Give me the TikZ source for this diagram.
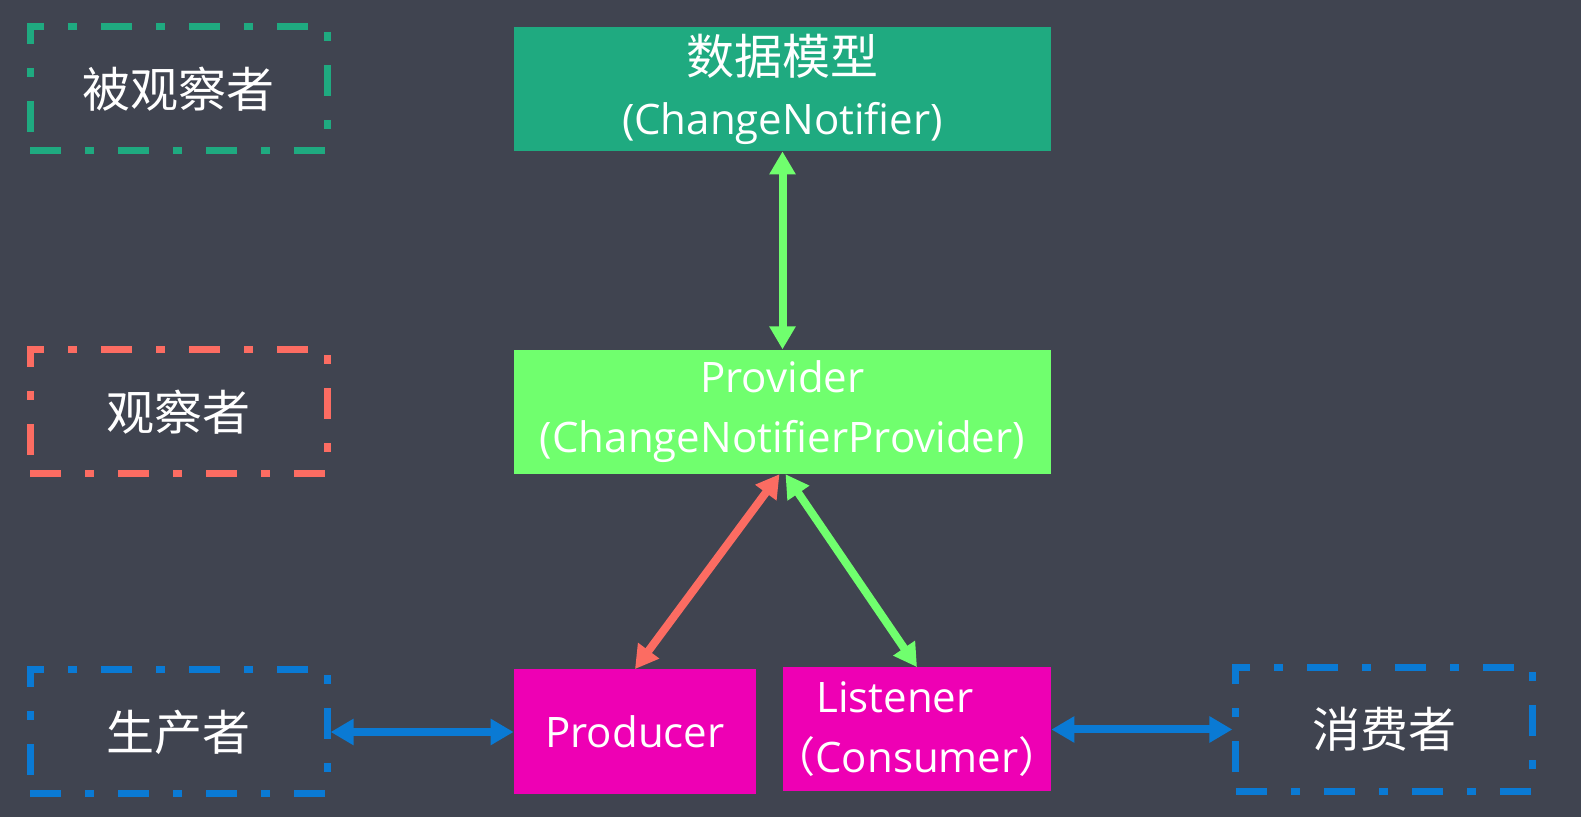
\documentclass[tikz,border=0pt]{standalone}
\usepackage{fontspec}
\setmainfont{Open Sans}
\newfontfamily\cjk{Noto Sans CJK SC}
\usepackage{xcolor}
\usetikzlibrary{arrows.meta}
\usetikzlibrary{positioning}

\definecolor{bgcol}{RGB}{64,68,80}
\definecolor{modelcol}{RGB}{31,170,128}
\definecolor{providercol}{RGB}{112,255,110}
\definecolor{pinkcol}{RGB}{238,0,180}
\definecolor{observercol}{RGB}{252,108,98}
\definecolor{rolecol}{RGB}{10,122,212}

\begin{document}
\begin{tikzpicture}[x=0.5pt,y=-0.5pt,>={Triangle[length=11.5pt,width=12.5pt]}]
	\tikzstyle{solidbox}=[rectangle, inner sep=0pt, text=white, align=center, font=\fontsize{21}{30}\selectfont]
	\tikzstyle{rolebox}=[rectangle, draw, line width=3.5pt, dash pattern=on 15.5pt off 12pt on 4.5pt off 12pt, minimum width=148.5pt, minimum height=62pt, text=white, font=\cjk\fontsize{24}{30}\selectfont]
	\tikzstyle{link}=[<->, line width=4pt]
	\newcommand{\zh}[1]{{\cjk\fontsize{24}{30}\selectfont #1}}

	\fill[bgcol] (0,0) rectangle (1581,817);

	% main column
	\node[solidbox, fill=modelcol, minimum width=268.5pt, minimum height=62pt] (model) at (782.5,89) {\zh{数据模型}\\(ChangeNotifier)};
	\node[solidbox, fill=providercol, minimum width=268.5pt, minimum height=62pt] (provider) [below=99pt of model] {Provider\\(ChangeNotifierProvider)};
	\node[solidbox, fill=pinkcol, minimum width=121pt, minimum height=62.5pt] (producer) at (635,732) {Producer};
	\node[solidbox, fill=pinkcol, minimum width=134pt, minimum height=62pt] (listener) at (917,729.5) {Listener\hspace*{22pt}\\\hspace*{-5pt}{\cjk （}Consumer{\cjk ）}\hspace*{-5pt}};

	% roles
	\node[rolebox, color=modelcol] (observable) [left=91.5pt of model] {\textcolor{white}{被观察者}};
	\node[rolebox, color=observercol] (observer) [left=91.5pt of provider] {\textcolor{white}{观察者}};
	\node[rolebox, color=rolecol] (maker) [left=91.5pt of producer] {\textcolor{white}{生产者}};
	\node[rolebox, color=rolecol] (consumer) [right=90.5pt of listener] {\textcolor{white}{消费者}};

	\draw[link, providercol] (model.south) -- (provider.north);
	\draw[link, observercol] ([xshift=-1.5pt]provider.south) -- (producer.north);
	\draw[link, providercol] ([xshift=1.5pt]provider.south) -- (listener.north);
	\draw[link, rolecol] (maker.east) -- (maker.east -| producer.west);
	\draw[link, rolecol] (listener.east) -- (listener.east -| consumer.west);
\end{tikzpicture}
\end{document}
